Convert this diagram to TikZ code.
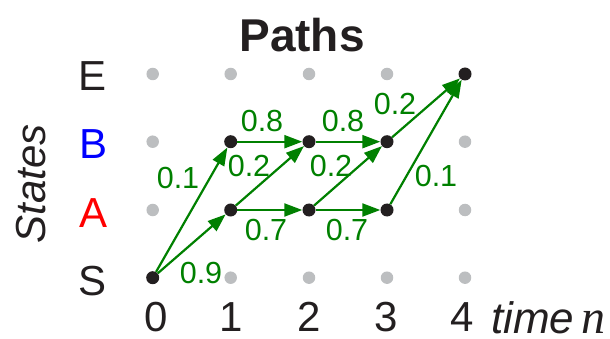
\documentclass[tikz,border=0pt]{standalone}
\usepackage{fontspec}
\setmainfont{Liberation Sans}
\newfontfamily\timesfam{Liberation Serif}
\usetikzlibrary{arrows.meta}
\definecolor{pgreen}{HTML}{008000}
\definecolor{dotgray}{HTML}{BCBEC0}
\definecolor{nodeblack}{HTML}{231F20}
\definecolor{pblue}{HTML}{0000FF}
\definecolor{pred}{HTML}{FF0000}
\tikzset{
  state/.style={circle,fill=nodeblack,inner sep=0pt,minimum size=13pt},
  gdot/.style={circle,fill=dotgray,inner sep=0pt,minimum size=12.5pt},
  edge/.style={draw=pgreen,line width=2.2pt,-{Triangle[length=18pt,width=13pt]}},
  plabel/.style={text=pgreen,inner sep=0pt,font=\fontsize{30.5}{36}\selectfont},
  axlabel/.style={inner sep=0pt,anchor=base,text=nodeblack,font=\fontsize{42}{50}\selectfont}
}
\begin{document}
\begin{tikzpicture}[x=1pt,y=-1pt]
\useasboundingbox (0,0) rectangle (610,339);
% title
\node[axlabel,font=\fontsize{46}{54}\selectfont\bfseries] (title) at (302,52) {Paths};
% state labels
\node[axlabel] (lE) at (93,91) {E};
\node[axlabel,text=pblue] (lB) at (94,159) {B};
\node[axlabel,text=pred] (lA) at (93.5,227) {A};
\node[axlabel] (lS) at (93,295) {S};
\node[axlabel,rotate=90,font=\fontsize{42}{50}\selectfont\itshape] (states) at (45,184) {States};
% time labels
\node[axlabel] (t0) at (156,331.5) {0};
\node[axlabel] (t1) at (231,331.5) {1};
\node[axlabel] (t2) at (309,331.5) {2};
\node[axlabel] (t3) at (386,331.5) {3};
\node[axlabel] (t4) at (462,331.5) {4};
\node[axlabel,anchor=base west,font=\fontsize{44}{52}\selectfont] (time) at (491,333) {\itshape time\kern7pt{\timesfam\fontsize{48}{54}\selectfont\itshape n}};
% gray grid dots
\node[gdot] (g0E) at (152.7,74) {};
\node[gdot] (g0B) at (152.7,141.7) {};
\node[gdot] (g0A) at (152.7,210) {};
\node[gdot] (g1E) at (230.7,74) {};
\node[gdot] (g1S) at (230.7,277.7) {};
\node[gdot] (g2E) at (309,74) {};
\node[gdot] (g2S) at (309,277.7) {};
\node[gdot] (g3E) at (387,74) {};
\node[gdot] (g3S) at (387,277.7) {};
\node[gdot] (g4B) at (465,141.7) {};
\node[gdot] (g4A) at (465,210) {};
\node[gdot] (g4S) at (465,277.7) {};
% black states
\node[state] (s0) at (152.7,277.7) {};
\node[state] (b1) at (230.7,141.7) {};
\node[state] (a1) at (230.7,210) {};
\node[state] (b2) at (309,141.7) {};
\node[state] (a2) at (309,210) {};
\node[state] (b3) at (387,141.7) {};
\node[state] (a3) at (387,210) {};
\node[state] (e4) at (465,74) {};
% transitions
\draw[edge] (s0) -- (b1);
\draw[edge] (s0) -- (a1);
\draw[edge] (b1) -- (b2);
\draw[edge] (a1) -- (b2);
\draw[edge] (a1) -- (a2);
\draw[edge] (b2) -- (b3);
\draw[edge] (a2) -- (b3);
\draw[edge] (a2) -- (a3);
\draw[edge] (b3) -- (e4);
\draw[edge] (a3) -- (e4);
% probabilities
\node[plabel] (p01) at (178,178) {0.1};
\node[plabel] (p09) at (201,273) {0.9};
\node[plabel] (p08a) at (262,121) {0.8};
\node[plabel] (p08b) at (343,121) {0.8};
\node[plabel] (p02a) at (249,166) {0.2};
\node[plabel] (p02b) at (331,166) {0.2};
\node[plabel] (p07a) at (266,230) {0.7};
\node[plabel] (p07b) at (347,230) {0.7};
\node[plabel] (p02c) at (395,104) {0.2};
\node[plabel] (p01b) at (436,176) {0.1};
\end{tikzpicture}
\end{document}
